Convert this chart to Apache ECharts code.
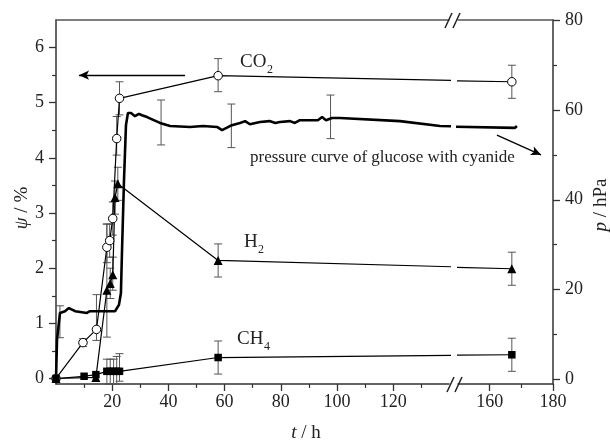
<!DOCTYPE html>
<html>
<head>
<meta charset="utf-8">
<script src="https://cdn.jsdelivr.net/npm/echarts@6/dist/echarts.min.js"></script>
<style>
html, body { margin: 0; padding: 0; background: #fff; }
#chart { width: 610px; height: 445px; }
</style>
</head>
<body>
<div id="chart"></div>
<script>
// t / h  vs  psi / %
const co2 = [[0, 0], [9.6, 0.65], [14.4, 0.89], [18.1, 2.38], [19.1, 2.5], [20.2, 2.9], [21.6, 4.35], [22.6, 5.08], [57.7, 5.49], [167, 5.38]];
const h2 = [[0, 0], [14.2, 0.02], [18.1, 1.6], [19.3, 1.72], [20.2, 1.88], [21, 3.28], [22, 3.53], [57.7, 2.14], [167, 1.99]];
const ch4 = [[0, 0], [10, 0.04], [14.2, 0.07], [18.1, 0.13], [19.3, 0.13], [20.5, 0.13], [21.6, 0.13], [22.6, 0.13], [57.7, 0.38], [167, 0.43]];

// error bars: [t, low, high]
const co2Err = [[9.6, 0.58, 0.72], [14.4, 0.69, 1.52], [18.1, 2.1, 2.8], [19.1, 2.2, 2.8], [20.2, 2.6, 3.2], [21.6, 4.05, 4.75], [22.6, 4.78, 5.38], [57.7, 5.2, 5.8], [167, 5.08, 5.68]];
const h2Err = [[18.1, 0.75, 2.8], [19.3, 1.45, 2.0], [20.2, 1.6, 2.2], [21, 2.98, 3.58], [22, 3.23, 3.83], [57.7, 1.84, 2.44], [167, 1.69, 2.29]];
const ch4Err = [[18.1, -0.1, 0.35], [19.3, -0.1, 0.35], [20.5, -0.1, 0.35], [21.6, -0.1, 0.4], [22.6, -0.05, 0.45], [57.7, 0.08, 0.68], [167, 0.13, 0.73]];

// pressure curve: [t, p / hPa]
const pressure = [[0, 0], [0.36, 8.8], [1.42, 14.8], [3.2, 15.2], [4.6, 15.9], [6.8, 15.2], [11, 14.8], [12.1, 15.2], [15.7, 15.2], [21, 15.2],
  [22.4, 16.6], [23.1, 19.2], [23.5, 28.8], [24.2, 44.4], [24.9, 56.6], [25.6, 59.3], [26.7, 59.3], [28.1, 58.6], [29.5, 59.1], [30.6, 58.8],
  [32.4, 58.4], [34.2, 57.9], [37, 57.1], [40.6, 56.4], [47.7, 56.2], [52.3, 56.4], [57.3, 56.2], [59.1, 55.5], [62.6, 56.6], [65.5, 57.1],
  [67.3, 57.5], [69, 56.8], [72.6, 57.3], [76, 57.5], [78, 57.1], [79.7, 57.3], [83.3, 57.5], [85, 57.1], [86.8, 57.7], [93.2, 57.7],
  [94.7, 58.4], [96.1, 57.7], [98.2, 58.2], [101.1, 58.2], [122.4, 57.5], [136.7, 56.4], [168, 56.0], [168.6, 56.4]];
const pressureErr = [[1.4, 9.3, 16.4], [37.4, 52.2, 62.2], [62.4, 51.6, 61.3], [97.7, 53.6, 63.3]];

// ticks
const psiLabels = [0, 1, 2, 3, 4, 5, 6];
const psiMinor = [0.5, 1.5, 2.5, 3.5, 4.5, 5.5];
const pLabels = [0, 20, 40, 60, 80];
const pMinor = [10, 30, 50, 70];
const tLabelsA = [20, 40, 60, 80, 100, 120];
const tMinorA = [10, 30, 50, 70, 90, 110, 130];
const tLabelsB = [160, 180];
const tMinorB = [170];

const FONT = 'Liberation Serif';
const AXIS_COLOR = '#333';
const tMaxA = 139.86, tMinB = 150, tMaxB = 180;

function axisBase(o) {
  return Object.assign({
    type: 'value',
    splitLine: { show: false },
    axisLine: { show: true, onZero: false, lineStyle: { color: AXIS_COLOR, width: 1.5 } },
    axisTick: { show: false },
    axisLabel: { show: false }
  }, o);
}
function majorTicks(vals) {
  return { show: true, customValues: vals, length: 7, lineStyle: { color: AXIS_COLOR, width: 1.3 } };
}
function minorTicks(vals) {
  return { show: true, customValues: vals, length: 4, lineStyle: { color: AXIS_COLOR, width: 1.2 } };
}
function labels(vals, margin) {
  return { show: true, customValues: vals, margin: margin, fontFamily: FONT, fontSize: 18, color: '#222' };
}
const noLine = { show: false, onZero: false };

const xAxis = [
  axisBase({ gridIndex: 0, position: 'bottom', min: 0, max: tMaxA, axisTick: majorTicks(tLabelsA), axisLabel: labels(tLabelsA, 9) }),
  axisBase({ gridIndex: 0, position: 'bottom', min: 0, max: tMaxA, axisLine: noLine, axisTick: minorTicks(tMinorA) }),
  axisBase({ gridIndex: 0, position: 'top', min: 0, max: tMaxA, axisLine: { show: true, onZero: false, lineStyle: { color: '#555', width: 1.5 } } }),
  axisBase({ gridIndex: 1, position: 'bottom', min: tMinB, max: tMaxB, axisTick: majorTicks(tLabelsB), axisLabel: labels(tLabelsB, 9) }),
  axisBase({ gridIndex: 1, position: 'bottom', min: tMinB, max: tMaxB, axisLine: noLine, axisTick: minorTicks(tMinorB) }),
  axisBase({ gridIndex: 1, position: 'top', min: tMinB, max: tMaxB, axisLine: { show: true, onZero: false, lineStyle: { color: '#555', width: 1.5 } } })
];
const yAxis = [
  axisBase({ gridIndex: 0, position: 'left', min: -0.1, max: 6.5, axisTick: majorTicks(psiLabels), axisLabel: labels(psiLabels, 12) }),
  axisBase({ gridIndex: 0, position: 'left', min: -0.1, max: 6.5, axisLine: noLine, axisTick: minorTicks(psiMinor) }),
  axisBase({ gridIndex: 0, position: 'right', min: -1, max: 80, show: false }),
  axisBase({ gridIndex: 1, position: 'right', min: -1, max: 80, axisTick: majorTicks(pLabels), axisLabel: labels(pLabels, 12) }),
  axisBase({ gridIndex: 1, position: 'right', min: -1, max: 80, axisLine: noLine, axisTick: minorTicks(pMinor) }),
  axisBase({ gridIndex: 1, position: 'left', min: -0.1, max: 6.5, show: false })
];

function errorBars(data, xi, yi) {
  return {
    type: 'custom', xAxisIndex: xi, yAxisIndex: yi, z: 1, silent: true,
    data: data,
    encode: { x: 0, y: [1, 2] },
    renderItem: function (params, api) {
      const hi = api.coord([api.value(0), api.value(2)]);
      const lo = api.coord([api.value(0), api.value(1)]);
      const w = 4;
      const st = { stroke: '#555', lineWidth: 1 };
      return {
        type: 'group', children: [
          { type: 'line', shape: { x1: hi[0], y1: hi[1], x2: lo[0], y2: lo[1] }, style: st },
          { type: 'line', shape: { x1: hi[0] - w, y1: hi[1], x2: hi[0] + w, y2: hi[1] }, style: st },
          { type: 'line', shape: { x1: lo[0] - w, y1: lo[1], x2: lo[0] + w, y2: lo[1] }, style: st }
        ]
      };
    }
  };
}

const series = [];
[0, 1].forEach(function (g) {
  const xi = g * 3;
  const yPsi = g === 0 ? 0 : 5;
  const yP = g === 0 ? 2 : 3;
  const inRange = g === 0 ? (d => d[0] <= tMaxA) : (d => d[0] >= tMinB);
  const thin = { color: '#000', width: 1.2 };
  series.push(
    errorBars(co2Err.filter(inRange), xi, yPsi),
    errorBars(h2Err.filter(inRange), xi, yPsi),
    errorBars(ch4Err.filter(inRange), xi, yPsi),
    errorBars(pressureErr.filter(inRange), xi, yP),
    {
      name: 'pressure', type: 'line', xAxisIndex: xi, yAxisIndex: yP, data: pressure, clip: true, z: 2,
      symbol: 'none', lineStyle: { color: '#000', width: 2.6 },
      markLine: g === 1 ? {
        silent: true, symbol: ['none', 'arrow'], symbolSize: [7, 10], label: { show: false },
        lineStyle: { color: '#000', width: 1.3, type: 'solid' },
        data: [[{ coord: [162.3, 54.4] }, { coord: [176.2, 50.0] }]]
      } : undefined
    },
    {
      name: 'CO2', type: 'line', xAxisIndex: xi, yAxisIndex: yPsi, data: co2, clip: true, z: 3,
      symbol: 'circle', symbolSize: 8.5, showAllSymbol: true, lineStyle: thin,
      itemStyle: { color: '#fff', borderColor: '#000', borderWidth: 1 },
      markLine: g === 0 ? {
        silent: true, symbol: ['none', 'arrow'], symbolSize: [7, 10], label: { show: false },
        lineStyle: { color: '#000', width: 1.3, type: 'solid' },
        data: [[{ coord: [45.9, 5.5] }, { coord: [8.2, 5.5] }]]
      } : undefined
    },
    {
      name: 'H2', type: 'line', xAxisIndex: xi, yAxisIndex: yPsi, data: h2, clip: true, z: 3,
      symbol: 'triangle', symbolSize: 9, showAllSymbol: true, lineStyle: thin, itemStyle: { color: '#000' }
    },
    {
      name: 'CH4', type: 'line', xAxisIndex: xi, yAxisIndex: yPsi, data: ch4, clip: true, z: 3,
      symbol: 'rect', symbolSize: 7.5, showAllSymbol: true, lineStyle: thin, itemStyle: { color: '#000' }
    }
  );
});

function txt(x, y, s, size, extra) {
  return {
    type: 'text', x: x, y: y, z: 10, silent: true,
    style: Object.assign({
      text: s, font: size + 'px "' + FONT + '"', fill: '#222',
      textAlign: 'left', textVerticalAlign: 'middle', align: 'left', verticalAlign: 'middle'
    }, extra || {})
  };
}
function slash(x1, y1, x2, y2) {
  return { type: 'line', z: 10, silent: true, shape: { x1: x1, y1: y1, x2: x2, y2: y2 }, style: { stroke: '#222', lineWidth: 1.5 } };
}
function axisTitle(x, y, s, rot) {
  return {
    type: 'text', x: x, y: y, rotation: rot, z: 10, silent: true,
    style: {
      text: s, font: '19px "' + FONT + '"', fill: '#222',
      textAlign: 'center', textVerticalAlign: 'middle', align: 'center', verticalAlign: 'middle',
      rich: { i: { fontStyle: 'italic', fontFamily: FONT, fontSize: 19 } }
    }
  };
}

const graphic = [
  txt(240, 62, 'CO', 19), txt(267, 70, '2', 12),
  txt(244, 242, 'H', 19), txt(258, 250, '2', 12),
  txt(237, 339, 'CH', 19), txt(264, 347, '4', 12),
  txt(250, 158, 'pressure curve of glucose with cyanide', 17),
  axisTitle(22, 208, '{i|ψ} / %', Math.PI / 2),
  axisTitle(601, 205, '{i|p} / hPa', Math.PI / 2),
  axisTitle(306, 433, '{i|t} / h', 0),
  slash(445, 28, 452, 13), slash(453, 28, 460, 13),
  slash(447, 392, 454, 377), slash(455, 392, 462, 377)
];

const chart = echarts.init(document.getElementById('chart'));
chart.setOption({
  animation: false,
  backgroundColor: '#fff',
  grid: [
    { left: 56, top: 20, width: 393, height: 364 },
    { left: 458, top: 20, width: 95, height: 364 }
  ],
  xAxis: xAxis,
  yAxis: yAxis,
  series: series,
  graphic: graphic
});
</script>
</body>
</html>
